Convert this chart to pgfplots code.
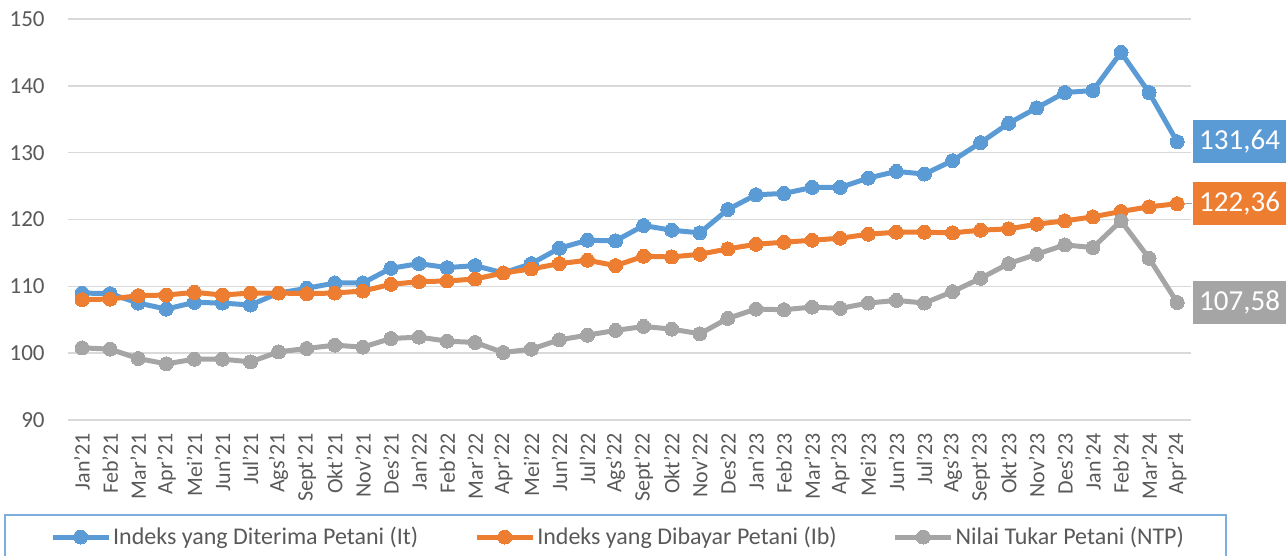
\documentclass[border=0pt]{standalone}
\usepackage{fontspec}
\setmainfont{Carlito}
\usepackage{pgfplots}
\pgfplotsset{compat=1.18}
\usepackage{pgfplotstable}

\definecolor{itblue}{HTML}{5B9BD5}
\definecolor{iborange}{HTML}{ED7D31}
\definecolor{ntpgray}{HTML}{A5A5A5}
\definecolor{gridgray}{HTML}{D9D9D9}
\definecolor{labelgray}{HTML}{595959}

% idx It Ib NTP
\pgfplotstableread{
idx It Ib NTP
0 109.0 108.0 100.8
1 108.9 108.1 100.6
2 107.5 108.6 99.2
3 106.6 108.7 98.4
4 107.6 109.1 99.1
5 107.5 108.7 99.1
6 107.2 109.0 98.7
7 109.0 109.0 100.2
8 109.7 108.9 100.7
9 110.5 109.0 101.2
10 110.5 109.3 100.9
11 112.7 110.3 102.2
12 113.4 110.7 102.4
13 112.8 110.8 101.8
14 113.1 111.1 101.6
15 112.0 112.0 100.1
16 113.4 112.6 100.6
17 115.7 113.4 102.0
18 116.9 113.9 102.7
19 116.8 113.1 103.4
20 119.1 114.5 104.0
21 118.4 114.4 103.6
22 118.0 114.8 102.9
23 121.5 115.6 105.2
24 123.7 116.3 106.6
25 123.9 116.6 106.5
26 124.8 116.9 106.9
27 124.8 117.2 106.7
28 126.2 117.8 107.5
29 127.2 118.1 107.9
30 126.8 118.1 107.5
31 128.8 118.0 109.2
32 131.5 118.4 111.2
33 134.4 118.6 113.4
34 136.7 119.3 114.8
35 139.0 119.8 116.2
36 139.3 120.4 115.8
37 145.0 121.2 119.8
38 139.0 121.9 114.2
39 131.64 122.36 107.58
}\datatable

\begin{document}
\begin{tikzpicture}
\useasboundingbox (-34pt,-68pt) rectangle (609pt,210pt);
\begin{axis}[
    at={(0,0)}, anchor=south west,
    scale only axis,
    width=561.6pt, height=200.5pt,
    xmin=-0.5, xmax=39.5,
    ymin=90, ymax=150,
    ytick={90,100,...,150},
    xtick={0,1,...,39},
    xticklabels={Jan'21,Feb'21,Mar'21,Apr'21,Mei'21,Jun'21,Jul'21,Ags'21,Sept'21,Okt'21,Nov'21,Des'21,
                 Jan'22,Feb'22,Mar'22,Apr'22,Mei'22,Jun'22,Jul'22,Ags'22,Sept'22,Okt'22,Nov'22,Des'22,
                 Jan'23,Feb'23,Mar'23,Apr'23,Mei'23,Jun'23,Jul'23,Ags'23,Sept'23,Okt'23,Nov'23,Des'23,
                 Jan'24,Feb'24,Mar'24,Apr'24},
    axis line style={draw=none},
    major tick length=0pt,
    ymajorgrids,
    grid style={gridgray, line width=0.75pt},
    /pgf/number format/assume math mode=true,
    y tick label style={font=\fontsize{11.5}{13}\selectfont, text=labelgray,
        anchor=east, inner sep=0pt, xshift=-11.5pt},
    x tick label style={font=\fontsize{11}{13}\selectfont, text=labelgray,
        rotate=90, anchor=east, inner sep=0pt, xshift=-6.5pt},
    legend columns=3,
    legend style={draw=none, fill=none, at={(0.4897,-0.2918)}, anchor=center,
        font=\fontsize{12}{14}\selectfont, text=labelgray,
        /tikz/every even column/.append style={column sep=27pt},
        nodes={inner sep=1pt}},
    legend image code/.code={
        \draw[mark repeat=2, mark phase=2, #1] plot coordinates {(0pt,0pt) (14pt,0pt) (28pt,0pt)};
    },
    clip=false,
]
\addplot[itblue, line width=2.5pt, mark=*, mark size=3.5pt, mark options={solid, fill=itblue, line width=0pt}]
    table[x=idx, y=It] {\datatable};
\addlegendentry{Indeks yang Diterima Petani (It)}
\addplot[iborange, line width=2.5pt, mark=*, mark size=3.5pt, mark options={solid, fill=iborange, line width=0pt}]
    table[x=idx, y=Ib] {\datatable};
\addlegendentry{Indeks yang Dibayar Petani (Ib)}
\addplot[ntpgray, line width=2.5pt, mark=*, mark size=3.5pt, mark options={solid, fill=ntpgray, line width=0pt}]
    table[x=idx, y=NTP] {\datatable};
\addlegendentry{Nilai Tukar Petani (NTP)}

\draw[ntpgray, line width=0.5pt] (axis cs:39,122.36) -- ++(7.5pt,0pt);
\node[anchor=west, xshift=7.5pt, fill=itblue, text=white, minimum width=47pt, minimum height=21.7pt,
      inner sep=0pt, font=\fontsize{14.5}{16}\selectfont] at (axis cs:39,131.64) {131,64};
\node[anchor=west, xshift=7.5pt, fill=iborange, text=white, minimum width=47pt, minimum height=21.7pt,
      inner sep=0pt, font=\fontsize{14.5}{16}\selectfont] at (axis cs:39,122.36) {122,36};
\node[anchor=west, xshift=7.5pt, fill=ntpgray, text=white, minimum width=47pt, minimum height=21.7pt,
      inner sep=0pt, font=\fontsize{14.5}{16}\selectfont] at (axis cs:39,107.58) {107,58};
\end{axis}
\draw[itblue!80, line width=1pt] (-31.5pt,-70pt) -- (-31.5pt,-47.5pt) -- (579pt,-47.5pt) -- (579pt,-70pt);
\end{tikzpicture}
\end{document}
